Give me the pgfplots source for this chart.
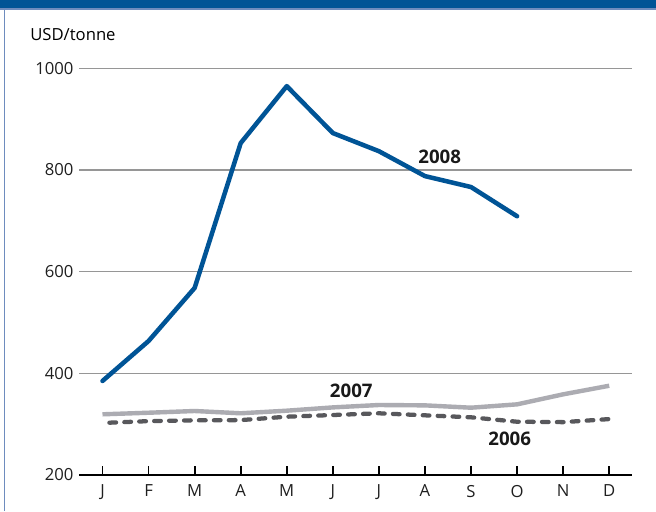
\documentclass[border=0pt]{standalone}
\usepackage{pgfplots}
\pgfplotsset{compat=1.18}
\usepackage{fontspec}
\setmainfont{Open Sans}
\definecolor{dblue}{RGB}{0,84,150}
\definecolor{lblue}{RGB}{110,140,190}
\definecolor{lgray}{RGB}{172,172,178}
\definecolor{dgray}{RGB}{88,88,92}
\definecolor{gridgray}{RGB}{150,150,150}
\begin{document}
\begin{tikzpicture}
\useasboundingbox (0pt,0pt) rectangle (492pt,383.25pt);
\fill[white] (0pt,0pt) rectangle (492pt,383.25pt);
\fill[dblue] (0pt,377.25pt) rectangle (492pt,383.25pt);
\fill[lblue] (0pt,375.75pt) rectangle (492pt,377.25pt);
\draw[lblue,line width=1.1pt] (3.4pt,0pt) -- (3.4pt,375.75pt);
\node[anchor=west,font=\fontsize{12.5pt}{14pt}\selectfont,inner sep=0pt] at (22.5pt,357pt) {USD/tonne};
\begin{axis}[
  at={(59.6pt,27pt)}, anchor=south west,
  scale only axis,
  width=414.6pt, height=305pt,
  xmin=-0.5, xmax=11.5, ymin=200, ymax=1000,
  axis x line*=bottom, axis y line*=left,
  x axis line style={-,black,line width=1.6pt},
  y axis line style={draw=none},
  xtick={0,...,11},
  xticklabels={J,F,M,A,M,J,J,A,S,O,N,D},
  ytick={200,400,600,800,1000},
  tick align=inside,
  major tick length=6.75pt,
  xtick style={black,line width=1.3pt},
  ytick style={draw=none},
  ymajorgrids,
  grid style={gridgray,line width=0.8pt},
  tick label style={font=\fontsize{12.5pt}{14pt}\selectfont,text=black!88},
  /pgf/number format/assume math mode=true,
  /pgf/number format/1000 sep={},
  xticklabel style={yshift=-4pt},
  yticklabel style={xshift=-1pt},
  clip=false,
]
\addplot[lgray,line width=3.3pt] coordinates {
(0,319.4)(1,322.5)(2,325.9)(3,321.4)(4,326.5)(5,333)(6,337.7)(7,337)(8,332.4)(9,339)(10,358.7)(11,375.6)};
\addplot[dgray,line width=3.2pt,line cap=round,dash pattern=on 5pt off 6.2pt] coordinates {
(0.15,302.9)(1,306)(2,307.6)(3,308)(4,314.7)(5,318)(6,321.4)(7,317.4)(8,313.5)(9,304.8)(10,304)(11,310)};
\addplot[dblue,line width=3.4pt,line cap=round,line join=round] coordinates {
(0,385)(1,463.6)(2,568)(3,853)(4,965)(5,872.7)(6,837)(7,788)(8,766.5)(9,709)};
\node[font=\fontsize{14pt}{16pt}\selectfont\bfseries,text=black!90] at (axis cs:7.32,825) {2008};
\node[font=\fontsize{14pt}{16pt}\selectfont\bfseries,text=black!90] at (axis cs:5.40,365) {2007};
\node[font=\fontsize{14pt}{16pt}\selectfont\bfseries,text=black!90] at (axis cs:8.84,272) {2006};
\end{axis}
\end{tikzpicture}
\end{document}
